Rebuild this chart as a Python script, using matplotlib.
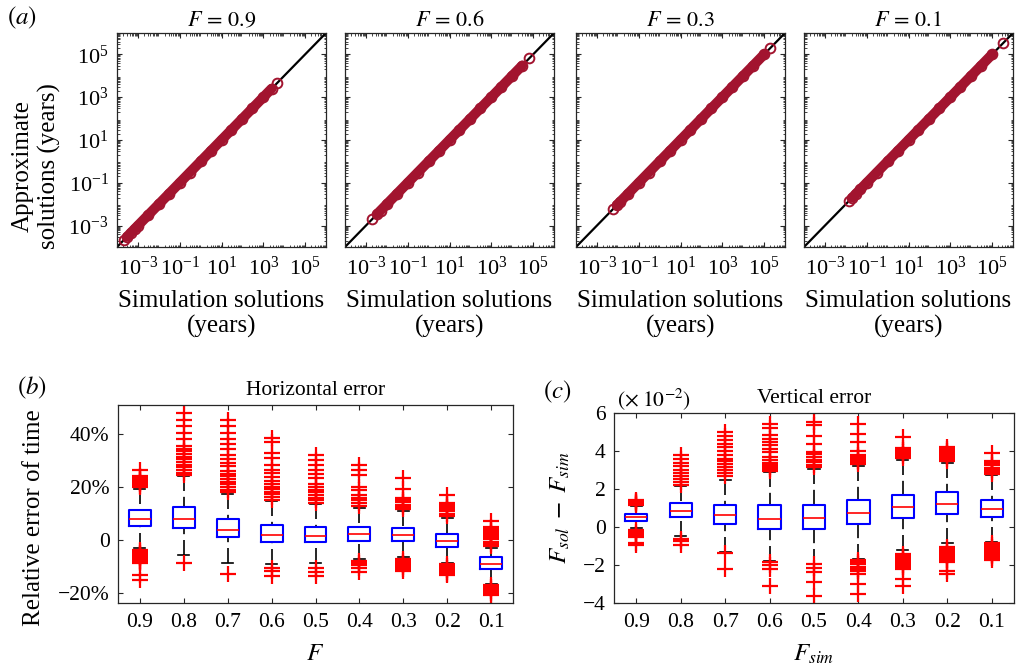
import numpy as np
import matplotlib
matplotlib.use("Agg")
import matplotlib.pyplot as plt
from matplotlib.ticker import FixedLocator, FuncFormatter, LogLocator, NullFormatter

plt.rcParams['font.family'] = ['Liberation Serif', 'DejaVu Serif']
plt.rcParams['mathtext.fontset'] = 'stix'

# ---- panel (a): simulation vs approximate solutions (years) ----
f_titles = ['0.9', '0.6', '0.3', '0.1']
sim_a = [
    [2.2e-4, 3e-4, 4.5e-4, 7e-4, 1e-3, 3e-3, 1e-2, 3e-2, 0.1, 0.3, 1, 3, 10, 30, 100, 300, 1000, 2500, 4400],
    [2e-3, 3.5e-3, 5e-3, 1e-2, 3e-2, 0.1, 0.3, 1, 3, 10, 30, 100, 300, 1000, 3000, 1e4, 3e4, 6.5e4],
    [6e-3, 9e-3, 1.3e-2, 3e-2, 0.1, 0.3, 1, 3, 10, 30, 100, 300, 1000, 3000, 1e4, 3e4, 1e5, 1.9e5],
    [1.4e-2, 2e-2, 3e-2, 5e-2, 0.1, 0.3, 1, 3, 10, 30, 100, 300, 1000, 3000, 1e4, 3e4, 1e5, 3.3e5],
]
approx_a = [
    [2.2e-4, 3e-4, 4.5e-4, 7e-4, 1e-3, 3e-3, 1e-2, 3e-2, 0.1, 0.3, 1, 3, 10, 30, 100, 300, 1000, 2500, 4400],
    [2e-3, 3.5e-3, 5e-3, 1e-2, 3e-2, 0.1, 0.3, 1, 3, 10, 30, 100, 300, 1000, 3000, 1e4, 3e4, 6.5e4],
    [6e-3, 9e-3, 1.3e-2, 3e-2, 0.1, 0.3, 1, 3, 10, 30, 100, 300, 1000, 3000, 1e4, 3e4, 1e5, 1.9e5],
    [1.4e-2, 2e-2, 3e-2, 5e-2, 0.1, 0.3, 1, 3, 10, 30, 100, 300, 1000, 3000, 1e4, 3e4, 1e5, 3.3e5],
]
log_ticks = [1e-3, 1e-1, 1e1, 1e3, 1e5]
log_lim = [1e-4, 1e6]

# ---- box plots ----
groups = ['0.9', '0.8', '0.7', '0.6', '0.5', '0.4', '0.3', '0.2', '0.1']

# (b) horizontal error, in percent
med_b = [8.1, 7.8, 3.8, 1.9, 1.6, 2.2, 1.9, -0.3, -8.9]
q1_b = [5.3, 4.7, 1.0, -0.6, -0.6, -0.3, -0.3, -2.5, -10.8]
q3_b = [11.4, 12.5, 8.0, 5.7, 5.1, 5.1, 4.7, 2.2, -6.3]
lo_b = [-3.2, -5.7, -8.6, -9.2, -8.6, -7.2, -6.5, -8.6, -16.5]
hi_b = [19.2, 24.0, 17.3, 14.8, 13.5, 12.2, 10.8, 8.3, -3.0]
fl_b = [
    [20, 20.5, 21, 21.5, 22, 22.5, 23, 23.5, 24, 26.6,
     -3.8, -4.3, -4.8, -5.3, -5.8, -6.3, -6.8, -7.3, -7.8, -8.3, -8.8, -13.3, -15.2],
    [48, 45.3, 43, 40.5, 38.2, 35.5, 34.5, 33.5, 32.5, 31.5, 30.5, 29.5, 28.5, 27.5, 26.5, 25.5, 24.7,
     -8.6],
    [45.3, 43, 40.5, 38.2, 36.1, 34.2, 32.3, 30.6, 29.1, 27.8, 26, 25, 24, 23, 22, 21, 20, 19, 18,
     -12.7],
    [38.6, 37, 32.9, 31, 28.5, 26.6, 25.3, 23.8, 22.2, 21.2, 20.2, 19.2, 18.2, 17.2, 16.2, 15.2,
     -10.6, -11.6, -13.7],
    [32.3, 30.4, 28.5, 26.5, 25, 23.4, 21, 20, 19, 18, 17, 16, 15, 14,
     -10.4, -12, -13.7],
    [28.5, 26.6, 24.7, 20, 19, 17, 16, 15, 14, 13,
     -8, -8.8, -9.6, -10.5, -12],
    [23.4, 19.2, 15.8, 15, 14.2, 13.4, 12.6, 11.8,
     -7.3, -8, -8.7, -9.4, -10.1, -10.8, -11.6],
    [17.1, 13.9, 13.2, 12.4, 11.6, 10.8, 10, 9.2,
     -9.2, -9.9, -10.6, -11.3, -12, -12.7, -13.3],
    [7, 5, 4.2, 3.4, 2.6, 1.8, 1, 0.2, -0.6, -1.4, -2.2,
     -17.1, -17.8, -18.5, -19.2, -19.9, -20.6],
]

# (c) vertical error, in units of 1e-2
med_c = [0.51, 0.85, 0.62, 0.41, 0.48, 0.74, 1.06, 1.23, 0.97]
q1_c = [0.34, 0.53, 0.18, -0.12, -0.09, 0.18, 0.48, 0.71, 0.55]
q3_c = [0.69, 1.27, 1.18, 1.15, 1.18, 1.41, 1.71, 1.82, 1.43]
lo_c = [-0.05, -0.49, -1.3, -1.78, -1.93, -1.68, -1.23, -0.83, -0.79]
hi_c = [1.1, 2.15, 2.45, 2.9, 3.04, 3.22, 3.55, 3.35, 2.73]
fl_c = [
    [1.15, 1.2, 1.25, 1.3, 1.35, 1.41,
     -0.15, -0.25, -0.35, -0.45, -0.55, -0.85, -0.95],
    [3.79, 3.56, 3.35, 3.21, 3.0, 2.82, 2.68, 2.52, 2.38, 2.2,
     -0.62, -0.72, -0.97],
    [5.0, 4.8, 4.6, 4.35, 4.2, 4.0, 3.8, 3.6, 3.45, 3.3, 3.15, 3.0, 2.85, 2.7,
     -1.38, -2.2],
    [5.4, 5.2, 4.85, 4.65, 4.45, 4.3, 4.1, 3.95, 3.7, 3.55, 3.35, 3.25, 3.15, 3.05, 2.95,
     -1.82, -2.0, -2.2, -3.09],
    [5.55, 5.35, 4.8, 4.35, 3.95, 3.85, 3.7, 3.55, 3.4, 3.25, 3.15,
     -1.96, -2.14, -2.37, -2.88, -3.61],
    [5.4, 4.9, 4.5, 4.0, 3.8, 3.7, 3.6, 3.5, 3.4, 3.3,
     -1.75, -1.85, -1.95, -2.1, -2.2, -2.3, -2.45, -3.0, -3.55],
    [4.75, 4.15, 4.05, 3.95, 3.85, 3.75, 3.65,
     -1.4, -1.5, -1.6, -1.7, -1.8, -1.9, -2.0, -2.1, -2.2, -2.75, -3.1],
    [4.2, 4.1, 4.0, 3.9, 3.8, 3.7, 3.6, 3.5,
     -1.05, -1.15, -1.25, -1.35, -1.45, -1.55, -1.65, -1.75, -1.85, -2.3, -2.45],
    [3.9, 3.45, 3.35, 3.25, 3.1, 3.0, 2.9, 2.8,
     -0.85, -0.95, -1.05, -1.15, -1.25, -1.35, -1.45, -1.55, -1.65, -1.75],
]

crimson = '#A2142F'
edge = '#262626'
tick_fs = 15.5
label_fs = 18

fig = plt.figure(figsize=(10.24, 6.67), dpi=100)


def style_axes(ax, fs=tick_fs):
    for s in ax.spines.values():
        s.set_linewidth(0.9)
        s.set_color(edge)
    ax.tick_params(which='both', direction='in', top=True, right=True,
                   labelsize=fs, colors=edge, labelcolor='black')
    ax.tick_params(which='major', length=3.5, width=0.8)
    ax.tick_params(which='minor', length=1.8, width=0.6)
    ax.tick_params(axis='x', which='major', pad=7)
    ax.tick_params(axis='y', which='major', pad=6)


lefts = [117, 345, 576, 804]
for i in range(4):
    ax = fig.add_axes([lefts[i] / 1024, 1 - 247 / 667, 209 / 1024, 214 / 667])
    ax.plot(log_lim, log_lim, color='black', lw=1.6, zorder=2)
    xs = sim_a[i]
    ys = approx_a[i]
    ax.plot(xs[1:-1], ys[1:-1], color=crimson, lw=7.2, solid_capstyle='round', zorder=3)
    ax.plot(xs, ys, 'o', ms=7, mfc='none', mec=crimson, mew=1.4, zorder=4)
    ax.set_xscale('log')
    ax.set_yscale('log')
    ax.set_xlim(log_lim)
    ax.set_ylim(log_lim)
    ax.xaxis.set_major_locator(FixedLocator(log_ticks))
    ax.yaxis.set_major_locator(FixedLocator(log_ticks))
    for axis in (ax.xaxis, ax.yaxis):
        axis.set_minor_locator(LogLocator(base=10, subs=np.arange(2, 10), numticks=30))
        axis.set_minor_formatter(NullFormatter())
    style_axes(ax, fs=16)
    if i > 0:
        ax.set_yticklabels([])
    else:
        ax.set_ylabel('Approximate\nsolutions (years)', fontsize=label_fs, linespacing=1.2)
        ax.yaxis.set_label_coords(-0.27, 0.38)
    ax.set_xlabel('Simulation solutions\n(years)', fontsize=label_fs, linespacing=1.2, labelpad=7)
    ax.set_title('$F\\,=\\,%s$' % f_titles[i], fontsize=16, pad=5)

fig.text(7 / 1024, 1 - 18 / 667, '$(a)$', fontsize=label_fs, va='center', ha='left')


def draw_box(ax, med, q1, q3, lo, hi, fl):
    pos = np.arange(1, len(groups) + 1)
    stats = []
    for k in range(len(groups)):
        stats.append(dict(med=med[k], q1=q1[k], q3=q3[k], whislo=lo[k], whishi=hi[k],
                          fliers=fl[k], label=groups[k]))
    # dashed whiskers drawn from the whisker end towards the box
    for k in range(len(groups)):
        ax.plot([pos[k], pos[k]], [hi[k], q3[k]], color='black', lw=1.2,
                dashes=(9, 3.5), zorder=2)
        ax.plot([pos[k], pos[k]], [lo[k], q1[k]], color='black', lw=1.2,
                dashes=(9, 3.5), zorder=2)
    ax.bxp(stats, positions=pos, widths=0.5, showcaps=True, capwidths=0.25,
           boxprops=dict(color='blue', lw=1.5),
           medianprops=dict(color='red', lw=1.2),
           whiskerprops=dict(linestyle='none'),
           capprops=dict(color='black', lw=1.2),
           flierprops=dict(marker='+', markeredgecolor='red', markersize=11,
                           markeredgewidth=1.6, linestyle='none'))
    ax.set_xlim(0.5, 9.5)
    style_axes(ax)


axb = fig.add_axes([118 / 1024, 1 - 603 / 667, 395 / 1024, 198 / 667])
draw_box(axb, med_b, q1_b, q3_b, lo_b, hi_b, fl_b)
axb.set_ylim(-23.8, 51)
axb.yaxis.set_major_locator(FixedLocator([-20, 0, 20, 40]))
axb.yaxis.set_major_formatter(FuncFormatter(
    lambda v, p: '0' if abs(v) < 1e-9 else ('%d%%' % v).replace('-', '\u2212')))
axb.set_ylabel('Relative error of time', fontsize=label_fs)
axb.yaxis.set_label_coords(-0.185, 0.43)
axb.set_xlabel('$F$', fontsize=label_fs, labelpad=8)
axb.set_title('Horizontal error', fontsize=tick_fs, pad=7)
fig.text(17 / 1024, 1 - 388 / 667, '$(b)$', fontsize=label_fs, va='center', ha='left')

axc = fig.add_axes([614 / 1024, 1 - 603 / 667, 400 / 1024, 190 / 667])
draw_box(axc, med_c, q1_c, q3_c, lo_c, hi_c, fl_c)
axc.set_ylim(-4, 6)
axc.yaxis.set_major_locator(FixedLocator([-4, -2, 0, 2, 4, 6]))
axc.yaxis.set_major_formatter(FuncFormatter(lambda v, p: ('%d' % v).replace('-', '\u2212')))
axc.set_ylabel('$F_{sol}\\;-\\;F_{sim}$', fontsize=label_fs, labelpad=8)
axc.set_xlabel('$F_{sim}$', fontsize=label_fs, labelpad=8)
axc.set_title('Vertical error', fontsize=tick_fs, pad=7)
fig.text(543 / 1024, 1 - 392 / 667, '$(c)$', fontsize=label_fs, va='center', ha='left')
fig.text(617 / 1024, 1 - 399 / 667, '$(\\times\\;10^{-2})$', fontsize=tick_fs, va='center', ha='left')

fig.savefig('out.png', dpi=100)
